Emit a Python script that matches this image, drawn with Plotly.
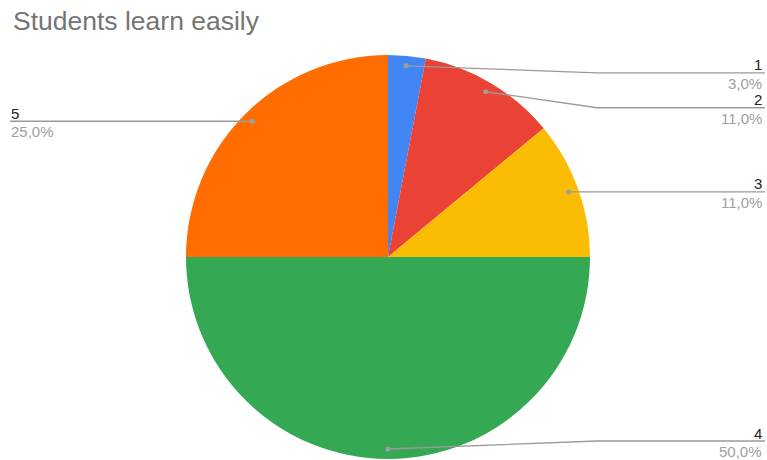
import math
import plotly.graph_objects as go

# ---- data ----
categories = ["1", "2", "3", "4", "5"]
values = [3, 11, 11, 50, 25]
colors = ["#4285F4", "#EA4335", "#FBBC04", "#34A853", "#FF6D01"]
title_text = "Students learn easily"

# ---- layout constants (pixels) ----
W, H = 767, 460
CX, CY, R = 388, 257, 202
DOT_R = 192
ELBOW_X_RIGHT = 597
LINE_END_RIGHT = 765
LINE_END_LEFT = 10
label_dy = [7, 16, 0, -8, 0]   # vertical shift of callout line vs dot (collision avoidance)
FONT = "Liberation Sans, Arial, sans-serif"


def px(x):
    return x / W


def py(y):
    return 1 - y / H


fig = go.Figure(go.Pie(
    labels=categories,
    values=values,
    marker=dict(colors=colors, line=dict(width=0)),
    sort=False,
    direction="clockwise",
    rotation=0,
    textinfo="none",
    hoverinfo="skip",
    showlegend=False,
    domain=dict(x=[px(CX - R), px(CX + R)], y=[py(CY + R), py(CY - R)]),
))

shapes = []
annotations = []
total = sum(values)
cum = 0
for i, (cat, v) in enumerate(zip(categories, values)):
    theta = (cum + v / 2) / total * 2 * math.pi
    cum += v
    dx = CX + DOT_R * math.sin(theta)
    dy = CY - DOT_R * math.cos(theta)
    ly = dy + label_dy[i]
    right = math.sin(theta) >= -1e-9
    pct = f"{v / total * 100:.1f}".replace(".", ",") + "%"
    line_col = "#9a9a9a"
    if right:
        pts = [(dx, dy), (ELBOW_X_RIGHT, ly), (LINE_END_RIGHT, ly)]
        tx, anchor = LINE_END_RIGHT - 2, "right"
    else:
        pts = [(dx, dy), (dx, ly), (LINE_END_LEFT, ly)]
        tx, anchor = LINE_END_LEFT, "left"
    path = "M " + " L ".join(f"{px(x)},{py(y)}" for x, y in pts)
    shapes.append(dict(type="path", path=path, xref="paper", yref="paper",
                       line=dict(color=line_col, width=1.3)))
    shapes.append(dict(type="circle", xref="paper", yref="paper",
                       x0=px(dx - 2.5), x1=px(dx + 2.5), y0=py(dy + 2.5), y1=py(dy - 2.5),
                       fillcolor="#9e9e9e", line=dict(width=0)))
    annotations.append(dict(x=px(tx), y=py(ly + 1.5), xref="paper", yref="paper",
                            text=cat, showarrow=False, xanchor=anchor, yanchor="bottom",
                            borderpad=0,
                            font=dict(family=FONT, size=15, color="#222222")))
    annotations.append(dict(x=px(tx), y=py(ly + 1), xref="paper", yref="paper",
                            text=pct, showarrow=False, xanchor=anchor, yanchor="top",
                            borderpad=0,
                            font=dict(family=FONT, size=15, color="#a0a0a0")))

annotations.append(dict(x=px(12), y=py(5), xref="paper", yref="paper", text=title_text,
                        showarrow=False, xanchor="left", yanchor="top", borderpad=0,
                        font=dict(family=FONT, size=26.5, color="#757575")))

fig.update_layout(
    width=W, height=H,
    margin=dict(l=0, r=0, t=0, b=0),
    paper_bgcolor="white", plot_bgcolor="white",
    shapes=shapes, annotations=annotations,
)

fig.write_html("out.html",
               config={"displayModeBar": False},
               post_script="document.body.style.margin='0';document.body.style.overflow='hidden';")
